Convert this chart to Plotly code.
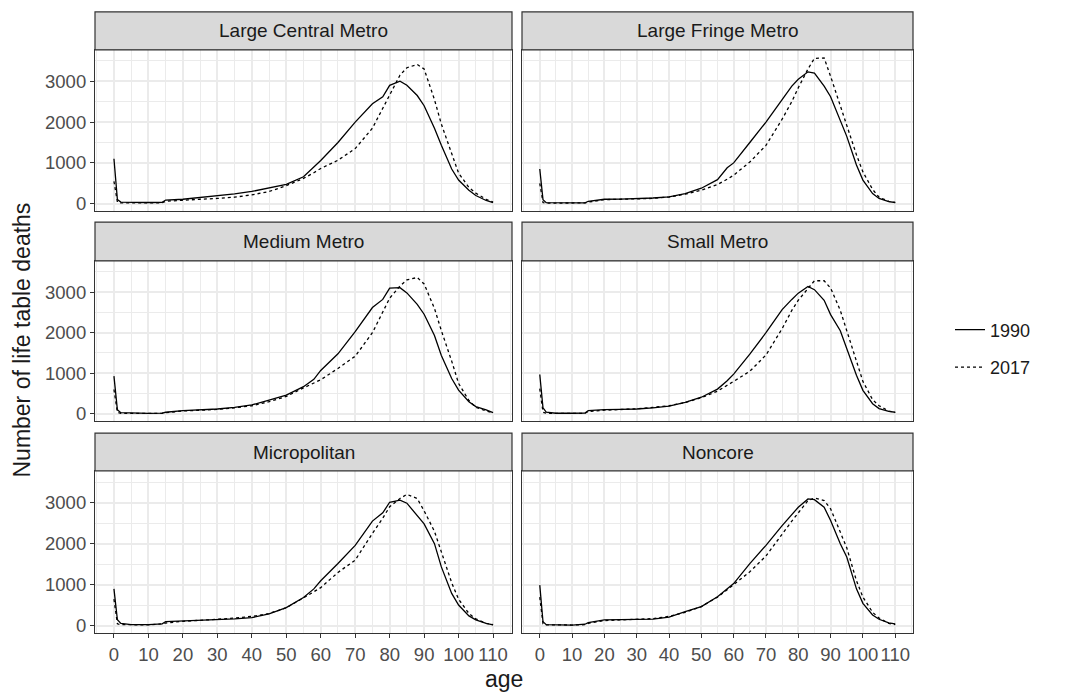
import plotly.graph_objects as go

AGES = [0, 1, 2, 5, 10, 14, 15, 20, 25, 30, 35, 40, 45, 50, 55, 58, 60, 65, 70, 75,
        78, 80, 83, 85, 88, 90, 93, 95, 98, 100, 103, 105, 108, 110]

PANELS = ["Large Central Metro", "Large Fringe Metro", "Medium Metro",
          "Small Metro", "Micropolitan", "Noncore"]
YEARS = ["1990", "2017"]

lcm_1990 = [1100, 100, 40, 30, 30, 35, 90, 110, 150, 190, 240, 300, 380, 476, 660, 900, 1060, 1500, 2000, 2450,
            2620, 2900, 3000, 2900, 2650, 2400, 1850, 1430, 850, 580, 330, 200, 80, 30]
lcm_2017 = [550, 40, 20, 20, 20, 25, 60, 90, 110, 130, 160, 218, 298, 443, 620, 760, 863, 1065, 1350, 1850,
            2330, 2680, 3150, 3330, 3410, 3300, 2550, 1950, 1200, 750, 400, 260, 110, 40]
lfm_1990 = [850, 100, 25, 20, 20, 20, 60, 110, 115, 120, 140, 170, 250, 380, 590, 880, 1000, 1500, 2000, 2550,
            2880, 3050, 3230, 3200, 2880, 2620, 2050, 1650, 950, 580, 250, 130, 50, 30]
lfm_2017 = [500, 30, 15, 15, 15, 20, 40, 100, 110, 115, 130, 165, 235, 330, 470, 600, 700, 1020, 1430, 2070,
            2500, 2840, 3300, 3560, 3570, 3120, 2400, 1950, 1200, 780, 350, 160, 60, 30]
mm_1990 = [930, 100, 30, 20, 10, 20, 40, 80, 100, 120, 160, 220, 340, 460, 670, 850, 1070, 1480, 2025, 2620,
           2820, 3100, 3110, 2980, 2700, 2455, 1930, 1440, 870, 585, 300, 180, 100, 30]
mm_2017 = [600, 40, 15, 10, 10, 15, 30, 70, 90, 110, 150, 200, 300, 430, 640, 760, 840, 1120, 1420, 2000,
           2500, 2850, 3150, 3300, 3360, 3200, 2600, 2050, 1300, 750, 330, 160, 70, 30]
sm_1990 = [970, 150, 40, 15, 15, 20, 80, 105, 110, 120, 150, 190, 285, 410, 610, 815, 980, 1470, 2000, 2570,
           2820, 2975, 3140, 3060, 2800, 2445, 2050, 1600, 950, 580, 250, 130, 60, 40]
sm_2017 = [620, 40, 15, 10, 10, 15, 60, 90, 100, 125, 160, 200, 280, 400, 560, 700, 800, 1050, 1450, 2100,
           2550, 2800, 3100, 3280, 3280, 3100, 2550, 2050, 1250, 800, 350, 200, 70, 30]
mic_1990 = [900, 150, 60, 30, 30, 50, 105, 120, 140, 160, 170, 200, 290, 443, 690, 900, 1097, 1516, 1960, 2550,
            2750, 3008, 3060, 2985, 2685, 2480, 2000, 1435, 790, 508, 242, 145, 60, 25]
mic_2017 = [650, 50, 30, 25, 25, 50, 70, 110, 130, 160, 190, 230, 300, 440, 680, 820, 930, 1300, 1600, 2250,
            2620, 2900, 3100, 3200, 3100, 2800, 2300, 1800, 1050, 650, 300, 170, 60, 30]
non_1990 = [990, 100, 30, 20, 20, 40, 80, 145, 160, 160, 165, 210, 347, 468, 710, 900, 1030, 1516, 1960, 2440,
            2700, 2887, 3090, 3070, 2887, 2565, 2000, 1677, 900, 548, 266, 160, 70, 50]
non_2017 = [700, 50, 25, 20, 20, 30, 60, 130, 150, 160, 175, 230, 330, 470, 700, 880, 1000, 1315, 1700, 2250,
            2550, 2750, 3050, 3110, 3050, 2850, 2300, 1900, 1100, 700, 330, 190, 60, 30]

SERIES = {
    "Large Central Metro": (lcm_1990, lcm_2017),
    "Large Fringe Metro": (lfm_1990, lfm_2017),
    "Medium Metro": (mm_1990, mm_2017),
    "Small Metro": (sm_1990, sm_2017),
    "Micropolitan": (mic_1990, mic_2017),
    "Noncore": (non_1990, non_2017),
}

X_TICKS = list(range(0, 111, 10))
Y_TICKS = [0, 1000, 2000, 3000]

W, H = 1071, 695
FONT = "Liberation Sans, Arial, sans-serif"
BORDER = "#333333"
GRID = "#EBEBEB"

col_px = [(95, 512), (522, 913)]
row_px = [((12, 50), (50, 212)), ((223, 262), (262, 423)), ((435, 473), (473, 636))]

def xd(a, b):
    return [a / W, b / W]

def yd(top, bot):
    return [1 - bot / H, 1 - top / H]

fig = go.Figure()
layout = dict(
    width=W, height=H,
    margin=dict(l=0, r=0, t=0, b=0),
    paper_bgcolor="white", plot_bgcolor="white",
    font=dict(family=FONT, color="#1A1A1A"),
    showlegend=True,
    legend=dict(x=950 / W, y=1 - 350 / H, xanchor="left", yanchor="middle",
                font=dict(size=18, family=FONT, color="#1A1A1A"),
                bgcolor="rgba(0,0,0,0)", tracegroupgap=11, traceorder="grouped"),
)
shapes = []
annotations = []

dashes = {"1990": "solid", "2017": "dot"}

for i, name in enumerate(PANELS):
    r, c = divmod(i, 2)
    k = i + 1
    xa = "x" if k == 1 else f"x{k}"
    ya = "y" if k == 1 else f"y{k}"
    vals = SERIES[name]
    for j, yr in enumerate(YEARS):
        fig.add_trace(go.Scatter(
            x=AGES, y=vals[j], mode="lines", name=yr,
            legendgroup=yr, showlegend=(i == 0),
            line=dict(color="black", width=1.3, dash=dashes[yr]),
            xaxis=xa, yaxis=ya,
        ))
    (st, sb), (pt, pb) = row_px[r]
    cl, cr = col_px[c]
    bottom = (r == 2)
    left = (c == 0)
    layout[f"xaxis{k}" if k > 1 else "xaxis"] = dict(
        domain=xd(cl, cr), anchor=ya, range=[-5.5, 115.5],
        tickvals=X_TICKS, ticktext=[str(t) for t in X_TICKS],
        showticklabels=bottom, ticks="outside" if bottom else "",
        ticklen=4, tickwidth=1.1, tickcolor=BORDER, tickangle=0,
        tickfont=dict(size=18.5, color="#4D4D4D", family=FONT),
        showgrid=True, gridcolor=GRID, gridwidth=1.6,
        minor=dict(dtick=5, tick0=0, showgrid=True, gridcolor=GRID, gridwidth=0.8, ticks=""),
        showline=True, mirror=True, linecolor=BORDER, linewidth=1.2,
        zeroline=False, fixedrange=True,
    )
    layout[f"yaxis{k}" if k > 1 else "yaxis"] = dict(
        domain=yd(pt, pb), anchor=xa, range=[-180, 3770],
        tickvals=Y_TICKS, ticktext=[str(t) for t in Y_TICKS],
        showticklabels=left, ticks="outside" if left else "",
        ticklen=4, tickwidth=1.1, tickcolor=BORDER,
        tickfont=dict(size=18.5, color="#4D4D4D", family=FONT),
        showgrid=True, gridcolor=GRID, gridwidth=1.6,
        minor=dict(tickvals=[500, 1500, 2500, 3500], showgrid=True, gridcolor=GRID, gridwidth=0.8, ticks=""),
        showline=True, mirror=True, linecolor=BORDER, linewidth=1.2,
        zeroline=False, fixedrange=True,
    )
    # strip
    shapes.append(dict(type="rect", xref="paper", yref="paper",
                       x0=cl / W, x1=cr / W, y0=1 - sb / H, y1=1 - st / H,
                       fillcolor="#D9D9D9", line=dict(color=BORDER, width=1.2), layer="above"))
    annotations.append(dict(text=name, xref="paper", yref="paper",
                            x=(cl + cr) / 2 / W, y=1 - (st + sb) / 2 / H,
                            xanchor="center", yanchor="middle", showarrow=False,
                            font=dict(size=19, color="#1A1A1A", family=FONT)))

annotations.append(dict(text="Number of life table deaths", xref="paper", yref="paper",
                        x=22 / W, y=1 - 342 / H, textangle=-90, showarrow=False,
                        xanchor="center", yanchor="middle",
                        font=dict(size=23, color="#1A1A1A", family=FONT)))
annotations.append(dict(text="age", xref="paper", yref="paper",
                        x=504 / W, y=1 - 682 / H, showarrow=False,
                        xanchor="center", yanchor="middle",
                        font=dict(size=23, color="#1A1A1A", family=FONT)))

layout["shapes"] = shapes
layout["annotations"] = annotations
fig.update_layout(**layout)
fig.write_html("out.html",
               config={"displayModeBar": False, "staticPlot": False},
               post_script="document.body.style.margin='0px';document.body.style.overflow='hidden';")
